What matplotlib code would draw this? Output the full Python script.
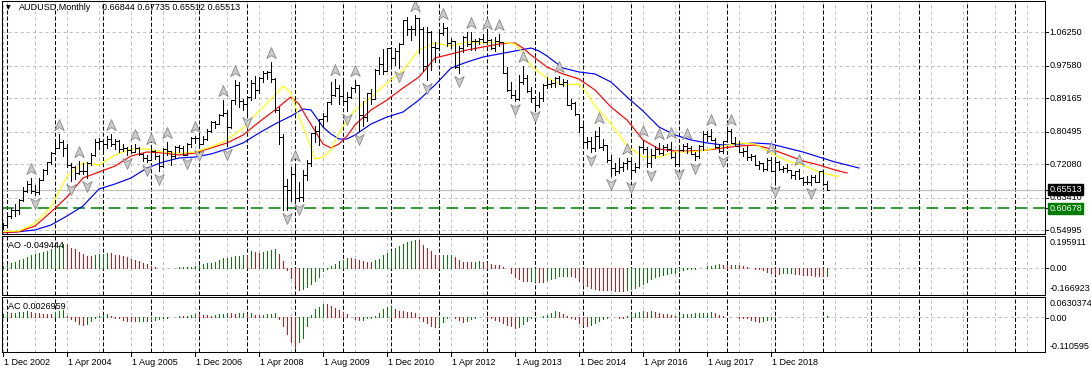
import matplotlib
matplotlib.use("Agg")
import matplotlib.pyplot as plt
from matplotlib.collections import LineCollection
from matplotlib.path import Path
from matplotlib.transforms import offset_copy, blended_transform_factory

plt.rcParams['font.family'] = ['Liberation Sans', 'DejaVu Sans']
plt.rcParams['lines.scale_dashes'] = False

W, H, DPI = 1091, 373, 100
FS = 6.5

# ---------------- data ----------------
symbol = "AUDUSD,Monthly"
last_ohlc = "0.66844 0.67735 0.65512 0.65513"
x_labels = ["1 Dec 2002", "1 Apr 2004", "1 Aug 2005", "1 Dec 2006", "1 Apr 2008",
            "1 Aug 2009", "1 Dec 2010", "1 Apr 2012", "1 Aug 2013", "1 Dec 2014",
            "1 Apr 2016", "1 Aug 2017", "1 Dec 2018"]
x_label_idx = [0, 16, 32, 48, 64, 80, 96, 112, 128, 144, 160, 176, 192]
year_start_idx = [1, 13, 25, 37, 49, 61, 73, 85, 97, 109, 121, 133, 145, 157, 169, 181, 193, 205, 217, 229, 241, 253]
price_ticks = [1.06250, 0.97580, 0.89165, 0.80495, 0.72080, 0.63410, 0.54995]
bid_price = 0.65513
level_price = 0.60678
ao_range = [-0.166923, 0.195911]
ac_range = [-0.110595, 0.0630374]
ao_text = "AO -0.049444"
ac_text = "AC 0.0026959"

opens = [0.5630,
 0.5628,0.5868,0.6030,0.6030,0.6270,0.6520,0.6700,0.6520,0.6480,0.6790,0.7070,0.7260,
 0.7510,0.7620,0.7780,0.7630,0.7200,0.7140,0.6970,0.7030,0.7040,0.7250,0.7460,0.7780,
 0.7810,0.7720,0.7870,0.7730,0.7810,0.7600,0.7620,0.7580,0.7530,0.7630,0.7480,0.7370,
 0.7330,0.7560,0.7430,0.7160,0.7590,0.7550,0.7430,0.7660,0.7620,0.7460,0.7730,0.7880,
 0.7890,0.7730,0.7860,0.8080,0.8290,0.8250,0.8480,0.8540,0.8170,0.8860,0.9270,0.8850,
 0.8760,0.8950,0.9310,0.9140,0.9430,0.9560,0.9590,0.9420,0.8620,0.7910,0.6650,0.6530,
 0.6960,0.6340,0.6360,0.6930,0.7250,0.8010,0.8060,0.8380,0.8450,0.8820,0.8990,0.9170,
 0.8970,0.8840,0.8960,0.9170,0.9250,0.8480,0.8420,0.9040,0.8900,0.9660,0.9800,0.9620,
 1.0230,0.9970,1.0150,1.0330,1.0950,1.0700,1.0720,1.0990,1.0710,0.9750,1.0620,1.0240,
 1.0210,1.0600,1.0730,1.0350,1.0410,0.9720,1.0230,1.0500,1.0330,1.0390,1.0390,1.0440,
 1.0380,1.0420,1.0220,1.0410,1.0370,0.9580,0.9120,0.8990,0.8900,0.9330,0.9450,0.9110,
 0.8920,0.8740,0.8920,0.9270,0.9280,0.9300,0.9430,0.9290,0.9340,0.8750,0.8800,0.8500,
 0.8170,0.7780,0.7810,0.7620,0.7930,0.7660,0.7700,0.7310,0.7120,0.7020,0.7130,0.7230,
 0.7290,0.7060,0.7130,0.7660,0.7610,0.7230,0.7450,0.7600,0.7510,0.7660,0.7610,0.7390,
 0.7210,0.7580,0.7670,0.7640,0.7480,0.7430,0.7690,0.7990,0.7950,0.7840,0.7660,0.7560,
 0.7800,0.8060,0.7770,0.7680,0.7530,0.7560,0.7400,0.7430,0.7190,0.7230,0.7090,0.7310,
 0.7040,0.7270,0.7090,0.7100,0.7050,0.6940,0.7020,0.6840,0.6740,0.6750,0.6890,0.6760,
 0.7020,0.66844]
highs = [0.5690,
 0.5920,0.6080,0.6170,0.6300,0.6620,0.6770,0.6860,0.6660,0.6850,0.7080,0.7270,0.7530,
 0.7800,0.8000,0.7840,0.7720,0.7240,0.7170,0.7280,0.7230,0.7260,0.7510,0.7850,0.7900,
 0.7810,0.7930,0.7990,0.7860,0.7840,0.7720,0.7660,0.7710,0.7730,0.7660,0.7510,0.7460,
 0.7620,0.7570,0.7460,0.7630,0.7790,0.7550,0.7680,0.7710,0.7680,0.7750,0.7910,0.7940,
 0.7910,0.7930,0.8110,0.8340,0.8340,0.8500,0.8880,0.8600,0.8870,0.9380,0.9330,0.8890,
 0.8960,0.9400,0.9500,0.9480,0.9630,0.9620,0.9850,0.9430,0.8680,0.7990,0.6830,0.7140,
 0.7180,0.6760,0.7060,0.7330,0.8010,0.8210,0.8390,0.8530,0.8830,0.9330,0.9410,0.9250,
 0.9400,0.9080,0.9200,0.9400,0.9270,0.8850,0.9060,0.9160,0.9680,0.9990,1.0180,1.0230,
 1.0250,1.0210,1.0350,1.0950,1.1010,1.0780,1.1080,1.1000,1.0770,1.0770,1.0650,1.0380,
 1.0650,1.0860,1.0750,1.0470,1.0410,1.0260,1.0530,1.0620,1.0620,1.0450,1.0470,1.0580,
 1.0600,1.0460,1.0500,1.0590,1.0380,0.9720,0.9330,0.9130,0.9530,0.9760,0.9530,0.9200,
 0.8970,0.9090,0.9280,0.9460,0.9390,0.9460,0.9500,0.9420,0.9400,0.8910,0.8820,0.8500,
 0.8300,0.7920,0.7920,0.8070,0.8170,0.7850,0.7700,0.7440,0.7240,0.7380,0.7270,0.7380,
 0.7320,0.7240,0.7680,0.7840,0.7650,0.7600,0.7680,0.7760,0.7700,0.7730,0.7780,0.7520,
 0.7600,0.7740,0.7750,0.7680,0.7520,0.7710,0.8070,0.8070,0.8120,0.7900,0.7730,0.7810,
 0.8130,0.8130,0.7920,0.7810,0.7630,0.7680,0.7480,0.7450,0.7300,0.7240,0.7360,0.7390,
 0.7300,0.7300,0.7170,0.7210,0.7070,0.7030,0.7080,0.6870,0.6900,0.6930,0.6930,0.7030,
 0.7030,0.67735]
lows = [0.5540,
 0.5600,0.5810,0.5880,0.5930,0.6250,0.6490,0.6470,0.6420,0.6440,0.6790,0.6960,0.7220,
 0.7480,0.7620,0.7410,0.7130,0.6770,0.6830,0.6960,0.6960,0.6840,0.7190,0.7430,0.7600,
 0.7540,0.7640,0.7690,0.7590,0.7520,0.7560,0.7460,0.7490,0.7520,0.7440,0.7300,0.7260,
 0.7320,0.7350,0.7020,0.7130,0.7440,0.7200,0.7370,0.7530,0.7440,0.7440,0.7660,0.7760,
 0.7660,0.7720,0.7830,0.8050,0.8150,0.8240,0.8470,0.7680,0.8150,0.8760,0.8680,0.8620,
 0.8520,0.8870,0.8930,0.9060,0.9330,0.9420,0.9350,0.8560,0.7720,0.6010,0.6010,0.6250,
 0.6280,0.6250,0.6260,0.6810,0.7160,0.7780,0.7700,0.8180,0.8320,0.8770,0.8970,0.8780,
 0.8770,0.8580,0.8930,0.9090,0.8070,0.8200,0.8320,0.8780,0.8890,0.9540,0.9540,0.9620,
 0.9780,0.9790,0.9700,1.0330,1.0550,1.0430,1.0560,1.0080,0.9630,0.9390,0.9660,0.9860,
 1.0200,1.0550,1.0270,1.0210,0.9690,0.9580,1.0120,1.0280,1.0160,1.0170,1.0330,1.0370,
 1.0380,1.0190,1.0150,1.0260,0.9580,0.9110,0.8930,0.8850,0.8880,0.9280,0.9090,0.8810,
 0.8660,0.8700,0.8850,0.9180,0.9210,0.9210,0.9290,0.9240,0.8750,0.8650,0.8480,0.8030,
 0.7630,0.7630,0.7530,0.7540,0.7630,0.7580,0.7260,0.6900,0.6930,0.6980,0.7020,0.7080,
 0.6820,0.7000,0.7100,0.7500,0.7140,0.7140,0.7380,0.7480,0.7440,0.7540,0.7370,0.7160,
 0.7160,0.7560,0.7490,0.7470,0.7330,0.7370,0.7580,0.7810,0.7830,0.7620,0.7530,0.7500,
 0.7790,0.7760,0.7670,0.7530,0.7410,0.7330,0.7310,0.7190,0.7080,0.7020,0.7050,0.7020,
 0.6720,0.7050,0.7000,0.7000,0.6860,0.6830,0.6830,0.6680,0.6690,0.6670,0.6750,0.6750,
 0.6680,0.65512]
closes = [0.5628,
 0.5868,0.6030,0.6030,0.6270,0.6520,0.6700,0.6520,0.6480,0.6790,0.7070,0.7260,0.7510,
 0.7620,0.7780,0.7630,0.7200,0.7140,0.6970,0.7030,0.7040,0.7250,0.7460,0.7780,0.7810,
 0.7720,0.7870,0.7730,0.7810,0.7600,0.7620,0.7580,0.7530,0.7630,0.7480,0.7370,0.7330,
 0.7560,0.7430,0.7160,0.7590,0.7550,0.7430,0.7660,0.7620,0.7460,0.7730,0.7880,0.7890,
 0.7730,0.7860,0.8080,0.8290,0.8250,0.8480,0.8540,0.8170,0.8860,0.9270,0.8850,0.8760,
 0.8950,0.9310,0.9140,0.9430,0.9560,0.9590,0.9420,0.8620,0.7910,0.6650,0.6530,0.6960,
 0.6340,0.6360,0.6930,0.7250,0.8010,0.8060,0.8380,0.8450,0.8820,0.8990,0.9170,0.8970,
 0.8840,0.8960,0.9170,0.9250,0.8480,0.8420,0.9040,0.8900,0.9660,0.9800,0.9620,1.0230,
 0.9970,1.0150,1.0330,1.0950,1.0700,1.0720,1.0990,1.0710,0.9750,1.0620,1.0240,1.0210,
 1.0600,1.0730,1.0350,1.0410,0.9720,1.0230,1.0500,1.0330,1.0390,1.0390,1.0440,1.0380,
 1.0420,1.0220,1.0410,1.0370,0.9580,0.9120,0.8990,0.8900,0.9330,0.9450,0.9110,0.8920,
 0.8740,0.8920,0.9270,0.9280,0.9300,0.9430,0.9290,0.9340,0.8750,0.8800,0.8500,0.8170,
 0.7780,0.7810,0.7620,0.7930,0.7660,0.7700,0.7310,0.7120,0.7020,0.7130,0.7230,0.7290,
 0.7060,0.7130,0.7660,0.7610,0.7230,0.7450,0.7600,0.7510,0.7660,0.7610,0.7390,0.7210,
 0.7580,0.7670,0.7640,0.7480,0.7430,0.7690,0.7990,0.7950,0.7840,0.7660,0.7560,0.7800,
 0.8060,0.7770,0.7680,0.7530,0.7560,0.7400,0.7430,0.7190,0.7230,0.7090,0.7310,0.7040,
 0.7270,0.7090,0.7100,0.7050,0.6940,0.7020,0.6840,0.6740,0.6750,0.6890,0.6760,0.7020,
 0.6690,0.65513]

lips_idx = [0,4,8,12,16,20,24,28,32,36,40,44,48,52,56,60,64,68,70,72,74,76,78,80,82,84,86,88,92,96,
            100,104,108,112,116,120,124,128,130,132,136,140,144,146,148,152,156,160,164,168,172,176,
            180,184,188,192,196,200,204,208,209]
lips_val = [0.5461,0.5479,0.5686,0.6100,0.6903,0.7240,0.7188,0.7447,0.7602,0.7602,0.7525,0.7499,
            0.7525,0.7654,0.7836,0.8146,0.8587,0.9001,0.9234,0.9053,0.8431,0.7913,0.7343,0.7395,
            0.7577,0.8017,0.8354,0.8613,0.8949,0.9312,0.9649,1.0167,1.0348,1.0270,1.0374,1.0348,
            1.0374,1.0322,1.0089,0.9752,0.9441,0.9260,0.9286,0.9053,0.8716,0.8250,0.7680,0.7395,
            0.7395,0.7525,0.7525,0.7577,0.7680,0.7758,0.7732,0.7499,0.7292,0.7188,0.7007,0.6903,0.6903]
teeth_idx = [0,4,8,12,16,20,24,28,32,36,40,44,48,52,56,60,64,68,71,72,74,76,78,80,82,84,86,88,92,96,
             100,104,108,112,116,120,124,128,130,132,136,140,144,148,152,156,160,164,168,172,176,
             180,184,188,192,196,200,204,208,211]
teeth_val = [0.5440,0.5461,0.5608,0.5971,0.6359,0.6852,0.7007,0.7162,0.7421,0.7525,0.7499,0.7447,
             0.7499,0.7628,0.7758,0.7965,0.8302,0.8613,0.8872,0.8949,0.8768,0.8405,0.8069,0.7732,
             0.7628,0.7732,0.7939,0.8224,0.8613,0.8872,0.9182,0.9467,0.9959,1.0063,1.0167,1.0244,
             1.0322,1.0348,1.0218,1.0037,0.9726,0.9545,0.9416,0.9131,0.8690,0.8354,0.7836,0.7602,
             0.7551,0.7551,0.7577,0.7628,0.7680,0.7706,0.7602,0.7447,0.7292,0.7188,0.7059,0.6981]
jaw_idx = [0,4,8,12,16,20,24,28,32,36,40,44,48,52,56,60,64,68,72,75,77,80,82,84,86,88,92,96,
           100,104,108,112,116,120,124,128,132,134,136,140,144,148,152,156,160,164,168,172,176,
           180,184,188,192,196,200,204,208,212,214]
jaw_val = [0.5435,0.5461,0.5505,0.5634,0.5867,0.6126,0.6567,0.6696,0.6852,0.7110,0.7266,0.7369,
           0.7395,0.7473,0.7602,0.7758,0.8017,0.8250,0.8457,0.8639,0.8613,0.8172,0.7991,0.7862,
           0.7862,0.7965,0.8250,0.8431,0.8561,0.8872,0.9260,0.9700,0.9856,0.9985,1.0063,1.0141,
           1.0218,1.0141,1.0011,0.9700,0.9597,0.9545,0.9338,0.8949,0.8587,0.8172,0.7965,0.7836,
           0.7758,0.7706,0.7732,0.7758,0.7732,0.7628,0.7525,0.7395,0.7266,0.7162,0.7110]

ao_vals = [0.010,0.024,0.030,0.036,0.046,0.056,0.067,0.077,0.085,0.093,
           0.097,0.105,0.117,0.131,0.137,0.145,0.144,0.125,0.113,0.097,
           0.085,0.075,0.070,0.081,0.083,0.085,0.091,0.089,0.081,0.077,
           0.071,0.067,0.054,0.050,0.040,0.030,0.024,0.014,0.004,0.002,
           0.002,0.001,0.001,0.002,0.003,0.004,0.006,0.008,0.014,0.020,
           0.024,0.028,0.032,0.036,0.050,0.058,0.060,0.067,0.071,0.075,
           0.081,0.077,0.105,0.095,0.091,0.097,0.105,0.111,0.117,0.085,
           0.044,-0.015,-0.060,-0.107,-0.135,-0.131,-0.117,-0.101,-0.081,-0.056,
           -0.020,-0.004,0.010,0.024,0.040,0.050,0.060,0.058,0.057,0.050,
           0.040,0.039,0.038,0.046,0.054,0.077,0.091,0.105,0.121,0.137,
           0.147,0.161,0.167,0.171,0.170,0.141,0.125,0.105,0.081,0.077,
           0.079,0.080,0.081,0.067,0.050,0.036,0.034,0.033,0.035,0.040,
           0.036,0.030,0.024,0.020,0.016,0.004,-0.003,-0.030,-0.056,-0.071,
           -0.081,-0.083,-0.082,-0.080,-0.085,-0.086,-0.077,-0.071,-0.065,-0.053,
           -0.050,-0.049,-0.052,-0.056,-0.080,-0.101,-0.113,-0.125,-0.133,-0.135,
           -0.136,-0.137,-0.139,-0.141,-0.141,-0.142,-0.137,-0.131,-0.121,-0.111,
           -0.097,-0.085,-0.071,-0.056,-0.050,-0.044,-0.040,-0.034,-0.030,-0.020,
           -0.016,-0.010,-0.008,-0.004,-0.001,0.002,0.010,0.014,0.020,0.024,
           0.020,0.016,0.015,0.018,0.016,0.010,0.006,0.002,-0.004,-0.010,
           -0.016,-0.024,-0.030,-0.036,-0.037,-0.034,-0.032,-0.031,-0.036,-0.040,
           -0.044,-0.046,-0.047,-0.048,-0.050,-0.051,-0.049444]
ac_vals = [0.010,0.012,0.012,0.014,0.015,0.016,0.018,0.016,0.013,0.012,
           0.010,0.008,0.008,0.015,0.020,0.022,0.004,-0.006,-0.013,-0.021,
           -0.026,-0.021,-0.012,-0.004,0.002,0.006,0.008,0.002,-0.002,-0.004,
           -0.008,-0.012,-0.014,-0.014,-0.013,-0.012,-0.012,-0.011,-0.010,-0.006,
           -0.003,-0.002,0.000,0.001,0.002,0.002,0.003,0.006,0.008,0.008,
           0.006,0.005,0.004,0.006,0.009,0.010,0.012,0.011,0.010,0.012,
           0.013,0.008,0.012,0.006,0.005,0.006,0.008,0.010,0.012,-0.006,
           -0.030,-0.055,-0.080,-0.095,-0.080,-0.065,-0.030,0.005,0.025,0.033,
           0.040,0.040,0.035,0.028,0.022,0.015,0.008,0.000,-0.005,-0.010,
           -0.008,-0.004,-0.002,0.004,0.012,0.025,0.033,0.035,0.025,0.020,
           0.018,0.017,0.016,0.012,-0.002,-0.012,-0.020,-0.028,-0.032,-0.030,
           -0.015,-0.003,0.000,-0.004,-0.010,-0.015,-0.012,-0.006,-0.002,0.000,
           -0.001,-0.002,-0.004,-0.008,-0.013,-0.020,-0.026,-0.030,-0.036,-0.032,
           -0.022,-0.012,-0.004,-0.001,-0.001,0.002,0.006,0.012,0.018,0.017,
           0.010,0.004,-0.002,-0.006,-0.018,-0.025,-0.028,-0.024,-0.018,-0.012,
           -0.006,-0.002,0.000,-0.001,-0.002,-0.003,0.004,0.008,0.012,0.016,
           0.018,0.016,0.018,0.015,0.012,0.010,0.008,0.006,0.004,0.006,
           0.008,0.009,0.010,0.011,0.012,0.013,0.014,0.016,0.012,0.006,
           0.002,0.001,0.000,-0.001,-0.002,-0.003,-0.004,-0.010,-0.014,-0.016,
           -0.012,-0.009,-0.006,-0.003,0.000,0.001,0.000,-0.001,0.001,0.000,
           -0.001,0.001,0.000,-0.001,0.001,0.001,0.0026959]

n = len(closes)
assert len(opens) == n and len(highs) == n and len(lows) == n
assert len(ao_vals) == n and len(ac_vals) == n

# ---------------- layout helpers ----------------
fig = plt.figure(figsize=(W / DPI, H / DPI), dpi=DPI)
fig.patch.set_facecolor('white')

def px_axes(x0, y0, x1, y1):
    return fig.add_axes([x0 / W, 1 - y1 / H, (x1 - x0) / W, (y1 - y0) / H])

PX = 72.0 / DPI  # points per pixel
ax_p = px_axes(2, 1, 1045, 234)
ax_ao = px_axes(2, 236, 1045, 295)
ax_ac = px_axes(2, 297, 1045, 352)

XMIN, XMAX = -0.25, 260.5
ax_p.set_ylim(0.54010, 1.14357)
ax_ao.set_ylim(ao_range[0], ao_range[1])
ax_ac.set_ylim(ac_range[0], ac_range[1])

GRID_C = '#c0c0c0'
for ax in (ax_p, ax_ao, ax_ac):
    ax.set_xlim(XMIN, XMAX)
    ax.set_xticks([]); ax.set_yticks([])
    ax.set_facecolor('white')
    for s in ax.spines.values():
        s.set_linewidth(0.75)
        s.set_color('black')
        s.set_zorder(10)
    for k in range(0, 261, 8):
        ax.axvline(k, color=GRID_C, lw=0.72, linestyle=(0, (2.2, 2.2)), zorder=0)
    for k in year_start_idx:
        if k < XMAX:
            ax.axvline(k, color='black', lw=0.75, linestyle=(0, (2.9, 1.5)), zorder=1)

for p in price_ticks:
    ax_p.axhline(p, color=GRID_C, lw=0.72, linestyle=(0, (2.2, 2.2)), zorder=0)
ax_ao.axhline(0, color=GRID_C, lw=0.72, linestyle=(0, (2.2, 2.2)), zorder=0)
ax_ac.axhline(0, color=GRID_C, lw=0.72, linestyle=(0, (2.2, 2.2)), zorder=0)

# current bid line and level line
ax_p.axhline(bid_price, color='#c0c0c0', lw=0.9, zorder=1)
ax_p.axhline(level_price, color='#007a00', lw=1.1, linestyle=(0, (8.5, 4.3)), zorder=1)

# ---------------- price bars ----------------
idx = list(range(n))
segs = []
tk = 0.4
for i in idx:
    segs.append([(i, lows[i]), (i, highs[i])])
    segs.append([(i - tk, opens[i]), (i, opens[i])])
    segs.append([(i, closes[i]), (i + tk, closes[i])])
ax_p.add_collection(LineCollection(segs, colors='black', linewidths=0.6, antialiaseds=False, zorder=4))

# Alligator
ax_p.plot(jaw_idx, jaw_val, color='#0000ff', lw=0.85, zorder=3)
ax_p.plot(teeth_idx, teeth_val, color='#ff0000', lw=0.85, zorder=3)
ax_p.plot(lips_idx, lips_val, color='#ffff00', lw=0.85, zorder=3)

# Fractals
up_path = Path([(0, 1.0), (0.8, -0.85), (0, -0.35), (-0.8, -0.85), (0, 1.0)],
               [Path.MOVETO, Path.LINETO, Path.LINETO, Path.LINETO, Path.CLOSEPOLY])
dn_path = Path([(0, -1.0), (0.8, 0.85), (0, 0.35), (-0.8, 0.85), (0, -1.0)],
               [Path.MOVETO, Path.LINETO, Path.LINETO, Path.LINETO, Path.CLOSEPOLY])
up_i, dn_i = [], []
for i in range(2, n - 2):
    if highs[i] > highs[i + 1] and highs[i] > highs[i + 2] and highs[i] >= highs[i - 1] and highs[i] >= highs[i - 2]:
        up_i.append(i)
    if lows[i] < lows[i + 1] and lows[i] < lows[i + 2] and lows[i] <= lows[i - 1] and lows[i] <= lows[i - 2]:
        dn_i.append(i)
tr_up = offset_copy(ax_p.transData, fig=fig, x=0, y=9 * PX, units='points')
tr_dn = offset_copy(ax_p.transData, fig=fig, x=0, y=-8 * PX, units='points')
ax_p.plot(up_i, [highs[i] for i in up_i], linestyle='none', marker=up_path, markersize=8.5,
          markerfacecolor='#cccccc', markeredgecolor='#888888', markeredgewidth=0.6,
          transform=tr_up, zorder=5)
ax_p.plot(dn_i, [lows[i] for i in dn_i], linestyle='none', marker=dn_path, markersize=8.5,
          markerfacecolor='#cccccc', markeredgecolor='#888888', markeredgewidth=0.6,
          transform=tr_dn, zorder=5)

# ---------------- AO / AC ----------------
def hist(ax, vals):
    cols = []
    for i, v in enumerate(vals):
        if i == 0 or v > vals[i - 1]:
            cols.append('#008000')
        else:
            cols.append('#ff0000')
    ax.vlines(idx, 0, vals, colors=cols, linewidth=0.6, antialiaseds=False, zorder=3)
hist(ax_ao, ao_vals)
hist(ax_ac, ac_vals)

# ---------------- texts ----------------
def ftext(xp, yp, s, **kw):
    fig.text(xp / W, 1 - yp / H, s, fontsize=kw.pop('fontsize', FS), va=kw.pop('va', 'center'),
             ha=kw.pop('ha', 'left'), **kw)

ftext(5.5, 7.5, "\u25BC", fontsize=4.5, family='DejaVu Sans')
ftext(18.5, 7.5, symbol)
ftext(102.5, 7.5, last_ohlc)
ftext(8, 245.5, ao_text)
ftext(8, 306.5, ac_text)

def right_label(ax, val, s, **kw):
    tr = blended_transform_factory(ax.transAxes, ax.transData)
    ax.plot([1.0, 1.0 + 3.0 / 1043], [val, val], color='black', lw=0.75, transform=tr, clip_on=False)
    ax.annotate(s, xy=(1.0, val), xycoords=tr, xytext=(4.5 * PX, 0), textcoords='offset points',
                va='center', ha='left', fontsize=FS, annotation_clip=False, **kw)

for p in price_ticks:
    right_label(ax_p, p, f"{p:.5f}")
right_label(ax_p, bid_price, f"{bid_price:.5f}", color='white',
            bbox=dict(boxstyle='square,pad=0.12', fc='black', ec='black'))
right_label(ax_p, level_price, f"{level_price:.5f}", color='white',
            bbox=dict(boxstyle='square,pad=0.12', fc='#007a00', ec='#007a00'))

# indicator scale labels (pinned inside the panel edges)
ftext(1049.5, 242.5, f"{ao_range[1]:.6f}")
ftext(1049.5, 268.3, "0.00")
ftext(1049.5, 288.5, f"{ao_range[0]:.6f}")
ftext(1049.5, 303.3, f"{ac_range[1]:.7f}")
ftext(1049.5, 318.3, "0.00")
ftext(1049.5, 346.7, f"{ac_range[0]:.6f}")
for yp in (268.3, 318.3):
    fig.add_artist(plt.Line2D([1045 / W, 1048 / W], [1 - yp / H, 1 - yp / H], color='black', lw=0.75))

# bottom time labels
trx = blended_transform_factory(ax_ac.transData, ax_ac.transAxes)
for k, lab in zip(x_label_idx, x_labels):
    ax_ac.plot([k, k], [0, -4.0 / 55], color='black', lw=0.75, transform=trx, clip_on=False)
    ax_ac.annotate(lab, xy=(k, 0), xycoords=trx, xytext=(1.5 * PX, -10.5 * PX),
                   textcoords='offset points', va='center', ha='left', fontsize=FS,
                   annotation_clip=False)

fig.savefig("out.png", dpi=DPI)
